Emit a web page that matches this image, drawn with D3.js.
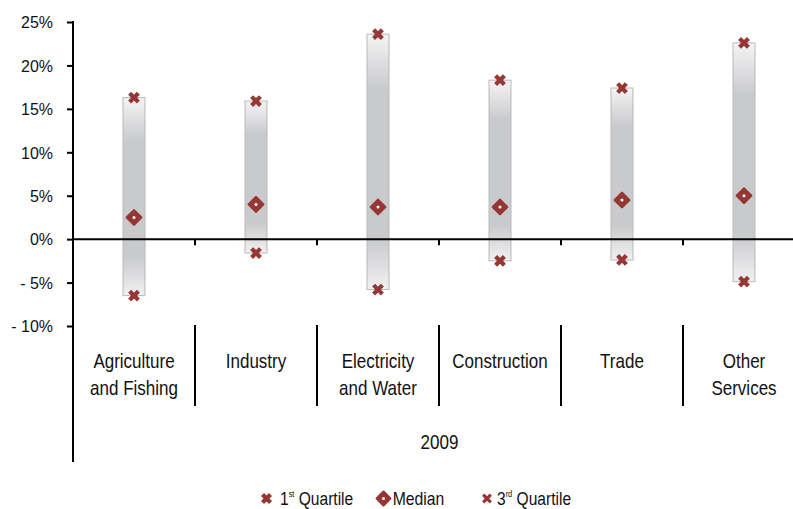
<!DOCTYPE html>
<html>
<head>
<meta charset="utf-8">
<script src="https://cdn.jsdelivr.net/npm/d3@7"></script>
<style>
  html, body { margin: 0; padding: 0; background: #fff; }
  svg text { font-family: "Liberation Sans", Arial, sans-serif; fill: #111; }
</style>
</head>
<body>
<svg id="chart" width="793" height="509"></svg>
<script>
// Sectors and quartile statistics (%)
const categories = [["Agriculture", "and Fishing"], ["Industry"], ["Electricity", "and Water"], ["Construction"], ["Trade"], ["Other", "Services"]];
const categoryKeys = ["Agriculture and Fishing", "Industry", "Electricity and Water", "Construction", "Trade", "Other Services"];
const q1Values = [-6.5, -1.6, -5.8, -2.5, -2.4, -4.9];
const medianValues = [2.5, 4.0, 3.7, 3.7, 4.5, 5.0];
const q3Values = [16.3, 15.9, 23.6, 18.3, 17.4, 22.6];
const yTicks = [-10, -5, 0, 5, 10, 15, 20, 25];
const yearLabel = "2009";

const svg = d3.select("#chart");
const red = "#953735";

const x = d3.scaleBand().domain(categoryKeys).range([73, 805]).padding(0);
const y = d3.scaleLinear().domain([-10, 25]).range([326, 22]);

// Condensed text: horizontally squeezed group around a text node
function ctext(parent, px, py, str, size, anchor, sx) {
  const g = parent.append("g").attr("transform", `translate(${px},${py}) scale(${sx},1)`);
  const t = g.append("text").attr("x", 0).attr("y", 0).attr("font-size", size).attr("text-anchor", anchor);
  if (str !== null) t.text(str);
  return t;
}

// Vertical gradient for the interquartile bars
const defs = svg.append("defs");
const grad = defs.append("linearGradient").attr("id", "barGrad")
  .attr("x1", 0).attr("y1", 0).attr("x2", 0).attr("y2", 1);
[[0, "#f4f4f5"], [0.22, "#c9cacc"], [0.8, "#c9cacc"], [1, "#f1f1f2"]]
  .forEach(([o, c]) => grad.append("stop").attr("offset", o).attr("stop-color", c));

// Y axis
const yAxis = d3.axisLeft(y).tickValues(yTicks).tickSize(6).tickFormat("");
const gy = svg.append("g").attr("transform", "translate(73,0)").call(yAxis);
gy.select(".domain").remove();
gy.selectAll(".tick line").attr("stroke", "#000").attr("stroke-width", 2);
const yl = svg.append("g");
yTicks.forEach(v => {
  ctext(yl, 53, y(v) + 6.3, (v < 0 ? "- " + Math.abs(v) : v) + "%", 17, "end", 0.94);
});
svg.append("line").attr("x1", 73).attr("x2", 73).attr("y1", 21).attr("y2", 462)
  .attr("stroke", "#000").attr("stroke-width", 2);

// Bars (Q1 to Q3)
const bw = 22;
svg.append("g").selectAll("rect").data(categoryKeys).join("rect")
  .attr("x", d => x(d) + x.bandwidth() / 2 - bw / 2)
  .attr("y", (d, i) => y(q3Values[i]))
  .attr("width", bw)
  .attr("height", (d, i) => y(q1Values[i]) - y(q3Values[i]))
  .attr("fill", "url(#barGrad)")
  .attr("stroke", "#b9b9bb").attr("stroke-width", 1);

// Zero line with category ticks
svg.append("line").attr("x1", 73).attr("x2", 793).attr("y1", y(0)).attr("y2", y(0))
  .attr("stroke", "#000").attr("stroke-width", 2);
const bounds = categoryKeys.slice(1).map(d => x(d));
svg.append("g").selectAll("line").data(bounds).join("line")
  .attr("x1", d => d).attr("x2", d => d).attr("y1", y(0)).attr("y2", y(0) + 6)
  .attr("stroke", "#000").attr("stroke-width", 2);

// Category separators and labels
svg.append("g").selectAll("line").data(bounds).join("line")
  .attr("x1", d => d).attr("x2", d => d).attr("y1", 325).attr("y2", 406)
  .attr("stroke", "#000").attr("stroke-width", 2);
const cl = svg.append("g");
categories.forEach((lines, i) => {
  const cx = x(categoryKeys[i]) + x.bandwidth() / 2;
  lines.forEach((ln, k) => ctext(cl, cx, 368 + k * 27, ln, 21, "middle", 0.81));
});
ctext(svg, 439.5, 449, yearLabel, 21, "middle", 0.81);

// Marker shapes
function cross(g, cx, cy, s, w) {
  g.append("path").attr("d", `M${cx - s},${cy - s}L${cx + s},${cy + s}M${cx - s},${cy + s}L${cx + s},${cy - s}`)
    .attr("stroke", red).attr("stroke-width", w).attr("stroke-linecap", "butt");
}
function diamond(g, cx, cy, r) {
  g.append("path").attr("d", `M${cx},${cy - r}L${cx + r},${cy}L${cx},${cy + r}L${cx - r},${cy}Z`)
    .attr("fill", red).attr("stroke", red).attr("stroke-width", 2.4).attr("stroke-linejoin", "round");
  g.append("circle").attr("cx", cx).attr("cy", cy).attr("r", 1.5).attr("fill", "#fff");
}

const marks = svg.append("g");
categoryKeys.forEach((k, i) => {
  const cx = x(k) + x.bandwidth() / 2;
  cross(marks, cx, y(q1Values[i]), 4.4, 4.2);
  cross(marks, cx, y(q3Values[i]), 4.4, 4.2);
  diamond(marks, cx, y(medianValues[i]), 7.2);
});

// Legend
const lg = svg.append("g");
cross(lg, 266.5, 498.5, 4, 4.3);
const t1 = ctext(lg, 280, 505, null, 19, "start", 0.82);
t1.append("tspan").text("1");
t1.append("tspan").attr("font-size", 9).attr("dy", -8).text("st");
t1.append("tspan").attr("dy", 8).text(" Quartile");
diamond(lg, 383.5, 498.5, 6.8);
ctext(lg, 392.7, 505, "Median", 19, "start", 0.83);
cross(lg, 487, 498.5, 3.8, 3.2);
const t3 = ctext(lg, 497, 505, null, 19, "start", 0.82);
t3.append("tspan").text("3");
t3.append("tspan").attr("font-size", 9).attr("dy", -8).text("rd");
t3.append("tspan").attr("dy", 8).text(" Quartile");
</script>
</body>
</html>
